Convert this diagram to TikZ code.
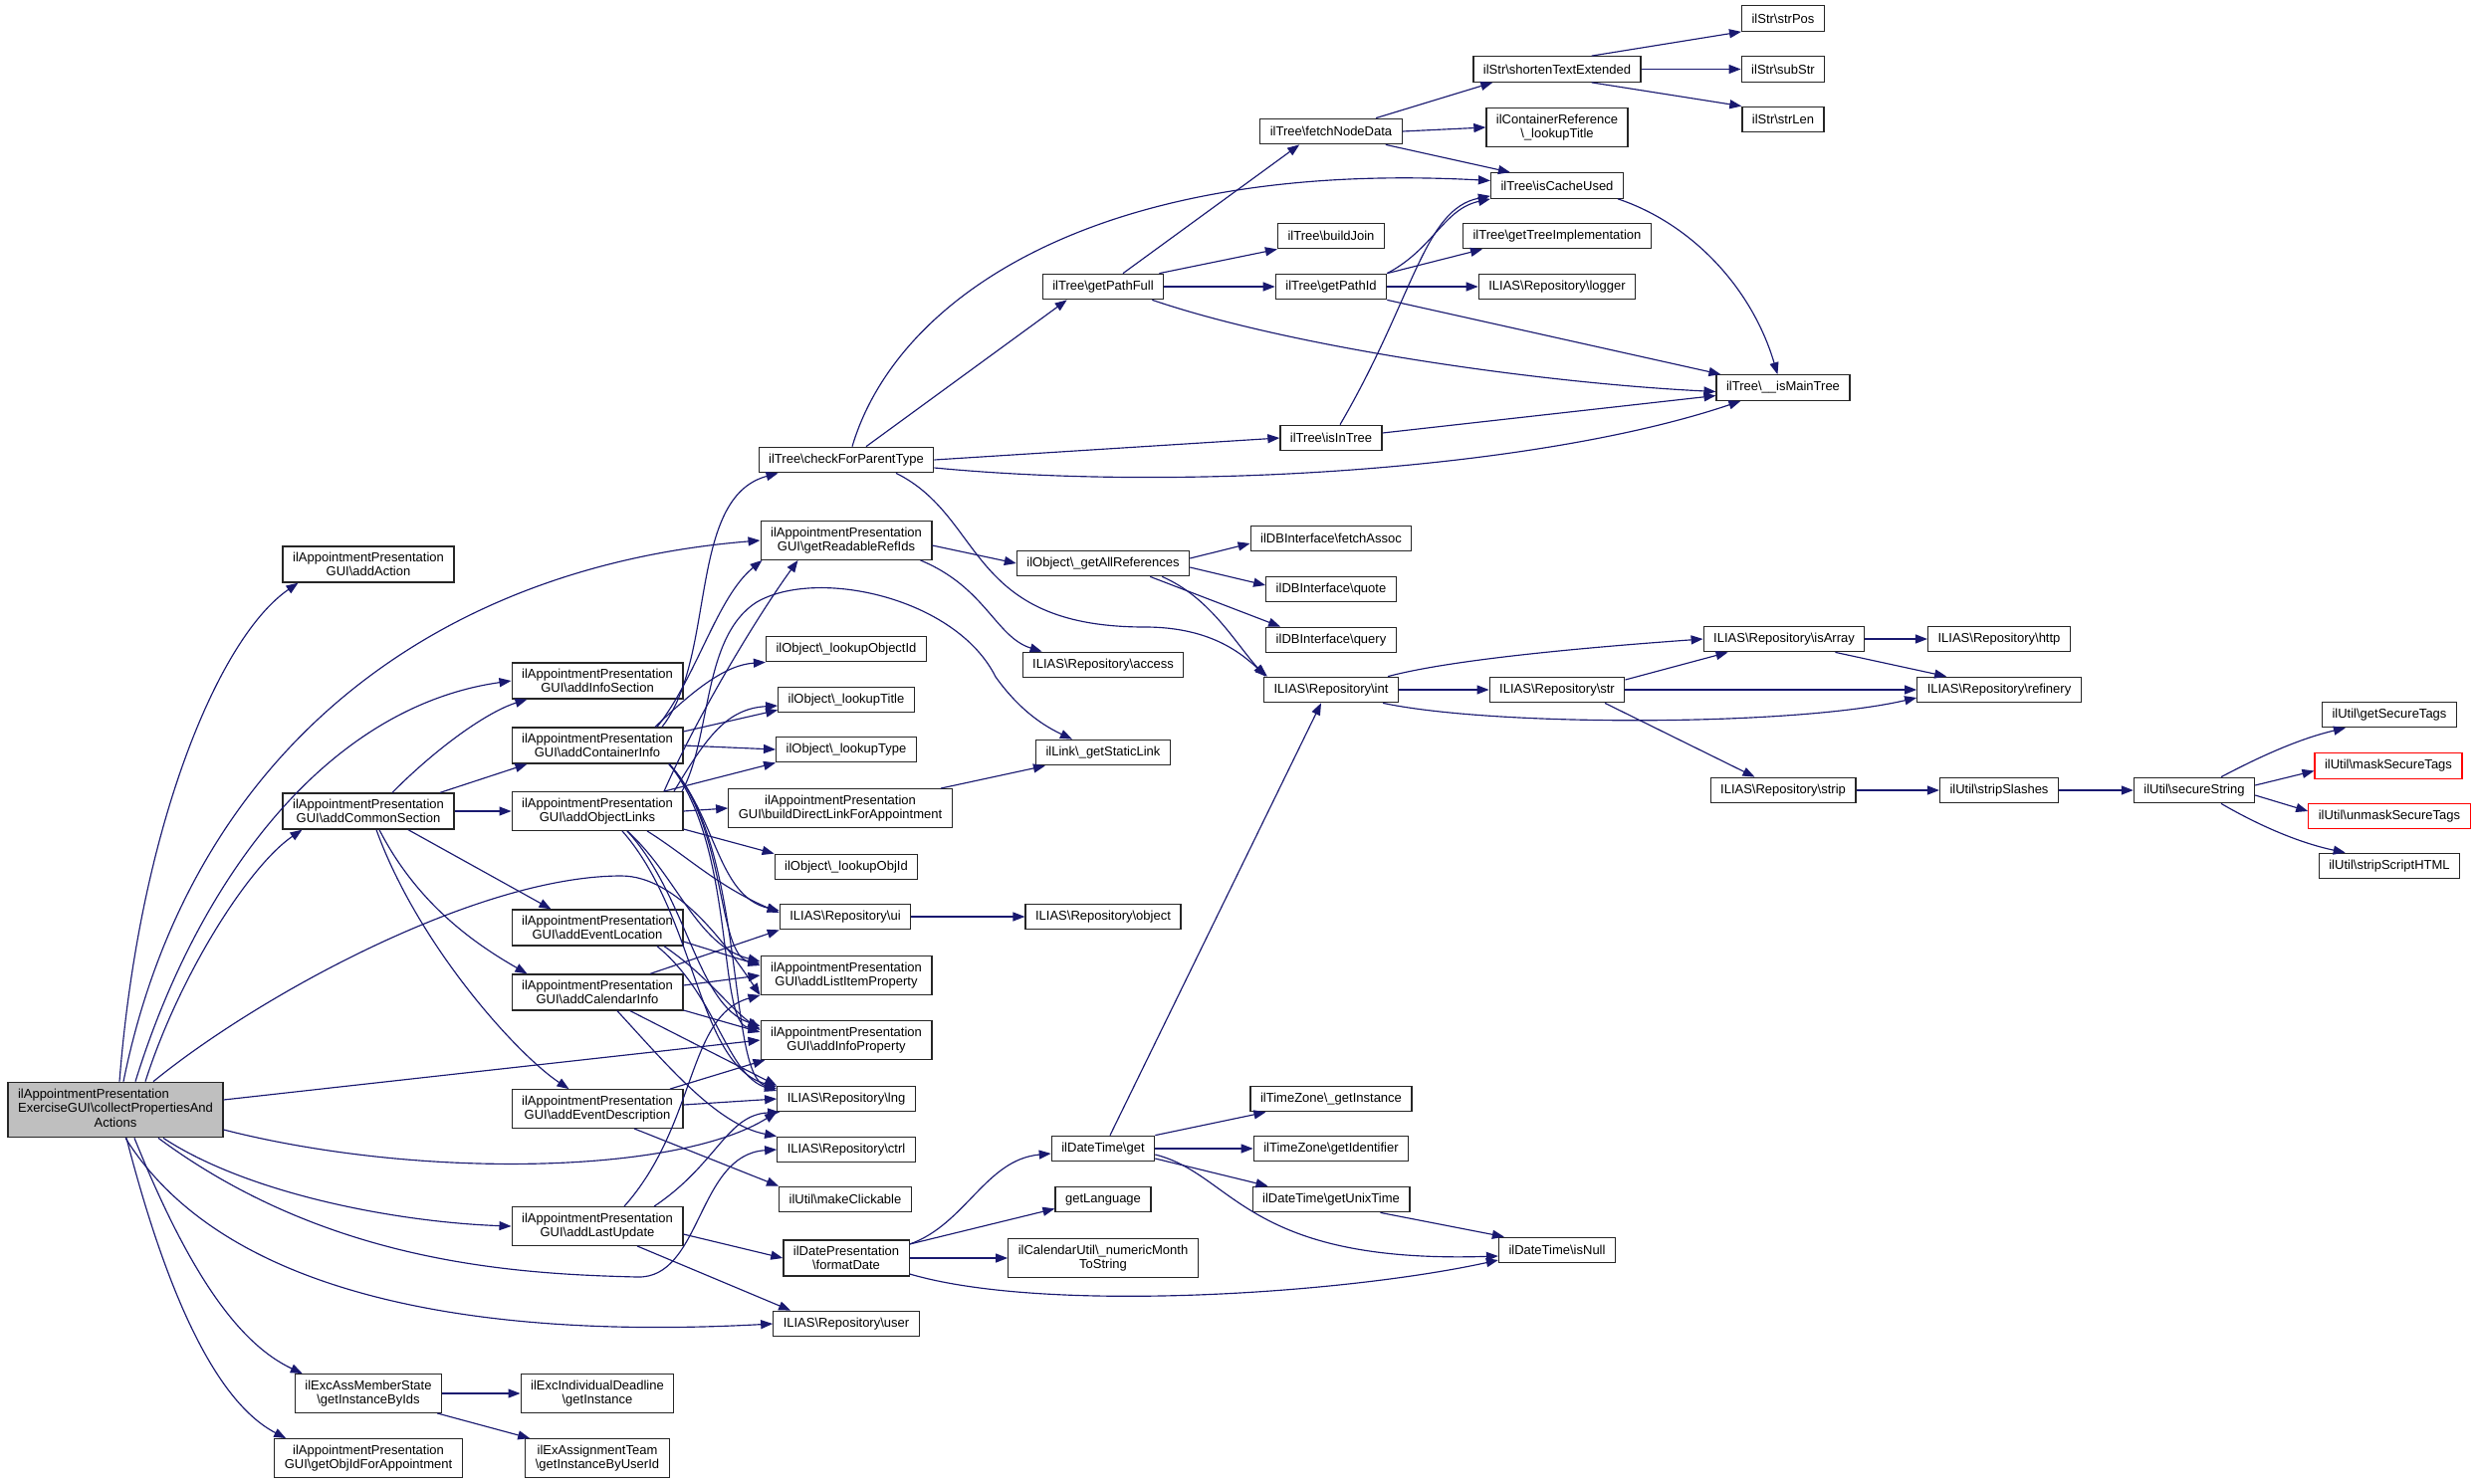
\documentclass[tikz,border=0pt]{standalone}
\usepackage{fontspec}
\setmainfont{Liberation Sans}
\usetikzlibrary{arrows.meta}
\definecolor{edgeblue}{HTML}{191970}
\definecolor{rootgray}{HTML}{BFBFBF}
\newcommand{\nodefont}{\fontsize{13pt}{14.5pt}\selectfont}
\newcommand{\bk}{\textbackslash}
\tikzset{
  nd/.style={draw=black!85, line width=1.25pt, fill=white, inner xsep=10pt, inner ysep=6pt,
    minimum height=25.5pt, align=center, font=\nodefont},
  rednd/.style={nd, draw=red},
  edg/.style={draw=edgeblue, line width=1.15pt, -{Triangle[length=12pt,width=9pt]}},
}
\begin{document}
\begin{tikzpicture}[x=1pt,y=-1pt]
\useasboundingbox (0,0) rectangle (2487,1491);
\fill[white] (0,0) rectangle (2487,1491);
% ---------- nodes ----------
\node[nd, fill=rootgray] (root) at (116,1115) {\begin{tabular}{@{}l@{}}ilAppointmentPresentation\\ExerciseGUI\bk{}collectPropertiesAnd\\\multicolumn{1}{@{}c@{}}{Actions}\end{tabular}};
\node[nd] (addAction) at (370,567) {ilAppointmentPresentation\\GUI\bk{}addAction};
\node[nd] (addCommon) at (370,815) {ilAppointmentPresentation\\GUI\bk{}addCommonSection};
\node[nd] (addInfoSection) at (600,684) {ilAppointmentPresentation\\GUI\bk{}addInfoSection};
\node[nd] (addContainer) at (600,749) {ilAppointmentPresentation\\GUI\bk{}addContainerInfo};
\node[nd] (addObjectLinks) at (600,815) {ilAppointmentPresentation\\GUI\bk{}addObjectLinks};
\node[nd] (addEventLoc) at (600,932) {ilAppointmentPresentation\\GUI\bk{}addEventLocation};
\node[nd] (addCalendar) at (600,997) {ilAppointmentPresentation\\GUI\bk{}addCalendarInfo};
\node[nd] (addEventDesc) at (600,1114) {ilAppointmentPresentation\\GUI\bk{}addEventDescription};
\node[nd] (addLastUpdate) at (600,1232) {ilAppointmentPresentation\\GUI\bk{}addLastUpdate};
\node[nd] (getInstIds) at (370,1400) {ilExcAssMemberState\\\bk{}getInstanceByIds};
\node[nd] (getObjIdApp) at (370,1465) {ilAppointmentPresentation\\GUI\bk{}getObjIdForAppointment};
\node[nd] (excDeadline) at (600,1400) {ilExcIndividualDeadline\\\bk{}getInstance};
\node[nd] (exTeam) at (600,1465) {ilExAssignmentTeam\\\bk{}getInstanceByUserId};
\node[nd] (checkParent) at (850,462) {ilTree\bk{}checkForParentType};
\node[nd] (readableRefIds) at (850,543) {ilAppointmentPresentation\\GUI\bk{}getReadableRefIds};
\node[nd] (lookupObjectId) at (850,652) {ilObject\bk\_lookupObjectId};
\node[nd] (lookupTitle) at (850,703) {ilObject\bk\_lookupTitle};
\node[nd] (lookupType) at (850,753) {ilObject\bk\_lookupType};
\node[nd] (buildDirect) at (844,812) {ilAppointmentPresentation\\GUI\bk{}buildDirectLinkForAppointment};
\node[nd] (lookupObjId) at (850,871) {ilObject\bk\_lookupObjId};
\node[nd] (ui) at (849,921) {ILIAS\bk{}Repository\bk{}ui};
\node[nd] (addListItem) at (850,980) {ilAppointmentPresentation\\GUI\bk{}addListItemProperty};
\node[nd] (addInfoProp) at (850,1045) {ilAppointmentPresentation\\GUI\bk{}addInfoProperty};
\node[nd] (lng) at (850,1104) {ILIAS\bk{}Repository\bk{}lng};
\node[nd] (ctrl) at (850,1155) {ILIAS\bk{}Repository\bk{}ctrl};
\node[nd] (makeClick) at (849,1205) {ilUtil\bk{}makeClickable};
\node[nd] (formatDate) at (850,1264) {ilDatePresentation\\\bk{}formatDate};
\node[nd] (user) at (850,1330) {ILIAS\bk{}Repository\bk{}user};
\node[nd] (getPathFull) at (1108,288) {ilTree\bk{}getPathFull};
\node[nd] (getAllRefs) at (1108,566) {ilObject\bk\_getAllReferences};
\node[nd] (access) at (1108,668) {ILIAS\bk{}Repository\bk{}access};
\node[nd] (staticLink) at (1108,756) {ilLink\bk\_getStaticLink};
\node[nd] (object) at (1108,921) {ILIAS\bk{}Repository\bk{}object};
\node[nd] (dtGet) at (1108,1154) {ilDateTime\bk{}get};
\node[nd] (getLanguage) at (1108,1205) {getLanguage};
\node[nd] (numMonth) at (1108,1264) {ilCalendarUtil\bk\_numericMonth\\ToString};
\node[nd] (fetchNode) at (1337,132) {ilTree\bk{}fetchNodeData};
\node[nd] (buildJoin) at (1337,237) {ilTree\bk{}buildJoin};
\node[nd] (getPathId) at (1337,288) {ilTree\bk{}getPathId};
\node[nd] (isInTree) at (1337,440) {ilTree\bk{}isInTree};
\node[nd] (fetchAssoc) at (1337,541) {ilDBInterface\bk{}fetchAssoc};
\node[nd] (quote) at (1337,592) {ilDBInterface\bk{}quote};
\node[nd] (query) at (1337,643) {ilDBInterface\bk{}query};
\node[nd] (int) at (1337,693) {ILIAS\bk{}Repository\bk{}int};
\node[nd] (tzInst) at (1337,1104) {ilTimeZone\bk\_getInstance};
\node[nd] (tzId) at (1337,1154) {ilTimeZone\bk{}getIdentifier};
\node[nd] (unixTime) at (1337,1205) {ilDateTime\bk{}getUnixTime};
\node[nd] (shorten) at (1564,69.5) {ilStr\bk{}shortenTextExtended};
\node[nd] (contRef) at (1564,128) {ilContainerReference\\\bk\_lookupTitle};
\node[nd] (isCache) at (1564,186.5) {ilTree\bk{}isCacheUsed};
\node[nd] (treeImpl) at (1564,237) {ilTree\bk{}getTreeImplementation};
\node[nd] (logger) at (1564,288) {ILIAS\bk{}Repository\bk{}logger};
\node[nd] (str) at (1564,693) {ILIAS\bk{}Repository\bk{}str};
\node[nd] (isNull) at (1564,1256) {ilDateTime\bk{}isNull};
\node[nd] (strPos) at (1791,18.5) {ilStr\bk{}strPos};
\node[nd] (subStr) at (1791,69.5) {ilStr\bk{}subStr};
\node[nd] (strLen) at (1791,120) {ilStr\bk{}strLen};
\node[nd] (mainTree) at (1791,389.5) {ilTree\bk\_\_isMainTree};
\node[nd] (isArray) at (1792,642) {ILIAS\bk{}Repository\bk{}isArray};
\node[nd] (strip) at (1791,794) {ILIAS\bk{}Repository\bk{}strip};
\node[nd] (http) at (2008,642) {ILIAS\bk{}Repository\bk{}http};
\node[nd] (refinery) at (2008,693) {ILIAS\bk{}Repository\bk{}refinery};
\node[nd] (stripSlashes) at (2008,794) {ilUtil\bk{}stripSlashes};
\node[nd] (secure) at (2204,794) {ilUtil\bk{}secureString};
\node[nd] (getSecure) at (2400,718) {ilUtil\bk{}getSecureTags};
\node[rednd] (mask) at (2399,769.5) {ilUtil\bk{}maskSecureTags};
\node[rednd] (unmask) at (2400,820) {ilUtil\bk{}unmaskSecureTags};
\node[nd] (stripScript) at (2400,870) {ilUtil\bk{}stripScriptHTML};
% ---------- edges from root ----------
\draw[edg] ([xshift=4pt]root.north) .. controls (140,830) and (220,640) .. ([xshift=16pt]addAction.south west);
\draw[edg] ([xshift=8pt]root.north) .. controls (190,760) and (430,570) .. (readableRefIds.west);
\draw[edg] ([xshift=20pt]root.north) .. controls (200,880) and (330,710) .. (addInfoSection.west);
\draw[edg] ([xshift=30pt]root.north) .. controls (180,980) and (250,870) .. ([xshift=20pt]addCommon.south west);
\draw[edg] ([xshift=38pt]root.north) .. controls (260,1000) and (480,880) .. (624,880) .. controls (680,880) and (730,950) .. (addListItem.south west);
\draw[edg] ([yshift=10pt]root.east) -- (addInfoProp.west);
\draw[edg] ([yshift=-20pt]root.east) .. controls (420,1185) and (680,1180) .. (lng.south west);
\draw[edg] ([xshift=43pt]root.south) .. controls (330,1270) and (520,1280) .. (640,1283) .. controls (705,1285) and (700,1160) .. (ctrl.west);
\draw[edg] ([xshift=10pt]root.south) .. controls (230,1310) and (500,1345) .. (user.west);
\draw[edg] ([xshift=48pt]root.south) .. controls (250,1200) and (400,1228) .. (addLastUpdate.west);
\draw[edg] ([xshift=19pt]root.south) .. controls (190,1280) and (240,1350) .. ([xshift=8pt]getInstIds.north west);
\draw[edg] ([xshift=11pt]root.south) .. controls (170,1310) and (220,1410) .. ([xshift=12pt]getObjIdApp.north west);
% ---------- addCommonSection ----------
\draw[edg] ([xshift=24pt]addCommon.north) .. controls (440,750) and (490,715) .. ([xshift=16pt]addInfoSection.south west);
\draw[edg] ([xshift=72pt]addCommon.north) -- ([xshift=16pt]addContainer.south west);
\draw[edg] (addCommon) -- (addObjectLinks);
\draw[edg] ([xshift=40pt]addCommon.south) -- ([xshift=40pt]addEventLoc.north west);
\draw[edg] ([xshift=11pt]addCommon.south) .. controls (420,910) and (480,950) .. ([xshift=16pt]addCalendar.north west);
\draw[edg] ([xshift=8pt]addCommon.south) .. controls (420,950) and (520,1060) .. ([xshift=58pt]addEventDesc.north west);
% ---------- addContainerInfo ----------
\draw[edg] ([xshift=65pt]addContainer.north) .. controls (720,660) and (690,500) .. ([xshift=20pt]checkParent.south west);
\draw[edg] ([xshift=60pt]addContainer.north) .. controls (700,680) and (720,600) .. ([xshift=2pt]readableRefIds.south west);
\draw[edg] ([xshift=58pt]addContainer.north) .. controls (700,690) and (730,668) .. (lookupObjectId.south west);
\draw[edg] ([yshift=14pt]addContainer.east) -- ([yshift=3pt]lookupTitle.south west);
\draw[edg] (addContainer.east) -- (lookupType.west);
\draw[edg] ([xshift=72pt]addContainer.south) .. controls (720,820) and (720,900) .. ([yshift=6pt]ui.west);
\draw[edg] ([xshift=72pt]addContainer.south) .. controls (730,830) and (720,960) .. ([yshift=12pt]addListItem.west);
\draw[edg] ([xshift=72pt]addContainer.south) .. controls (740,850) and (720,1030) .. ([yshift=12pt]addInfoProp.west);
\draw[edg] ([xshift=72pt]addContainer.south) .. controls (750,850) and (730,1080) .. ([yshift=10pt]lng.west);
% ---------- addObjectLinks ----------
\draw[edg] ([xshift=67pt]addObjectLinks.north) .. controls (700,720) and (760,620) .. ([xshift=38pt]readableRefIds.south west);
\draw[edg] ([xshift=77pt]addObjectLinks.north) .. controls (710,740) and (730,712) .. ([yshift=-6pt]lookupTitle.west);
\draw[edg] ([xshift=67pt]addObjectLinks.north) -- (lookupType.south west);
\draw[edg] ([xshift=85pt]addObjectLinks.north) .. controls (715,740) and (705,640) .. (760,605) .. controls (820,570) and (960,600) .. (1000,680) .. controls (1025,715) and (1050,730) .. ([xshift=37pt]staticLink.north west);
\draw[edg] (addObjectLinks.east) -- (buildDirect.west);
\draw[edg] ([yshift=-18pt]addObjectLinks.east) -- (lookupObjId.north west);
\draw[edg] ([xshift=50pt]addObjectLinks.south) .. controls (690,860) and (720,890) .. ([yshift=4pt]ui.west);
\draw[edg] ([xshift=30pt]addObjectLinks.south) .. controls (680,880) and (700,950) .. ([yshift=14pt]addListItem.west);
\draw[edg] ([xshift=30pt]addObjectLinks.south) .. controls (690,900) and (700,1010) .. ([yshift=14pt]addInfoProp.west);
\draw[edg] ([xshift=25pt]addObjectLinks.south) .. controls (700,920) and (700,1070) .. ([yshift=12pt]lng.west);
% ---------- addEventLocation ----------
\draw[edg] ([yshift=-14pt]addEventLoc.east) -- ([yshift=10pt]addListItem.west);
\draw[edg] ([xshift=67pt]addEventLoc.south) .. controls (710,980) and (730,1010) .. ([yshift=10pt]addInfoProp.west);
\draw[edg] ([xshift=60pt]addEventLoc.south) .. controls (720,1000) and (730,1080) .. ([yshift=8pt]lng.west);
% ---------- addCalendarInfo ----------
\draw[edg] ([xshift=53pt]addCalendar.north) -- (ui.south west);
\draw[edg] ([yshift=7pt]addCalendar.east) -- (addListItem.west);
\draw[edg] ([yshift=-18pt]addCalendar.east) -- ([yshift=8pt]addInfoProp.west);
\draw[edg] ([xshift=33pt]addCalendar.south) -- (lng.north west);
\draw[edg] ([xshift=20pt]addCalendar.south) .. controls (670,1070) and (720,1130) .. (ctrl.north west);
% ---------- addEventDescription ----------
\draw[edg] ([xshift=73pt]addEventDesc.north) -- ([xshift=5pt]addInfoProp.south west);
\draw[edg] ([yshift=4pt]addEventDesc.east) -- (lng.west);
\draw[edg] ([xshift=37pt]addEventDesc.south) -- (makeClick.north west);
% ---------- addLastUpdate ----------
\draw[edg] ([xshift=27pt]addLastUpdate.north) .. controls (700,1130) and (690,1020) .. (addListItem.south west);
\draw[edg] ([xshift=57pt]addLastUpdate.north) .. controls (720,1170) and (730,1120) .. ([xshift=3pt]lng.south west);
\draw[edg] ([yshift=-8pt]addLastUpdate.east) -- (formatDate.west);
\draw[edg] ([xshift=40pt]addLastUpdate.south) -- ([xshift=18pt]user.north west);
% ---------- getInstanceByIds ----------
\draw[edg] (getInstIds) -- (excDeadline);
\draw[edg] ([xshift=-5pt]getInstIds.south east) -- ([xshift=5pt]exTeam.north west);
% ---------- checkForParentType ----------
\draw[edg] ([xshift=20pt]checkParent.north) -- ([xshift=25pt]getPathFull.south west);
\draw[edg] ([xshift=6pt]checkParent.north) .. controls (900,300) and (1100,160) .. ([yshift=5pt]isCache.west);
\draw[edg] (checkParent.east) -- (isInTree.west);
\draw[edg] ([yshift=-8pt]checkParent.east) .. controls (1200,495) and (1550,470) .. ([xshift=25pt]mainTree.south west);
\draw[edg] ([xshift=50pt]checkParent.south) .. controls (990,520) and (970,630) .. (1150,630) .. controls (1220,630) and (1250,660) .. ([xshift=4pt]int.north west);
% ---------- getReadableRefIds ----------
\draw[edg] ([yshift=-5pt]readableRefIds.east) -- (getAllRefs.west);
\draw[edg] ([xshift=-12pt]readableRefIds.south east) .. controls (990,590) and (1000,640) .. ([xshift=20pt]access.north west);
% ---------- getAllReferences ----------
\draw[edg] ([yshift=5pt]getAllRefs.east) -- ([yshift=-5pt]fetchAssoc.west);
\draw[edg] ([yshift=-4pt]getAllRefs.east) -- ([yshift=4pt]quote.west);
\draw[edg] ([xshift=-40pt]getAllRefs.south east) -- ([xshift=15pt]query.north west);
\draw[edg] ([xshift=-28pt]getAllRefs.south east) .. controls (1215,600) and (1240,645) .. ([xshift=2pt]int.north west);
% ---------- int / str ----------
\draw[edg] ([xshift=-11pt]int.north east) .. controls (1460,662) and (1600,650) .. (isArray.west);
\draw[edg] (int) -- (str);
\draw[edg] ([xshift=-16pt]int.south east) .. controls (1500,730) and (1800,730) .. ([yshift=-8pt]refinery.west);
\draw[edg] ([yshift=10pt]str.east) -- ([xshift=25pt]isArray.south west);
\draw[edg] (str) -- (refinery);
\draw[edg] ([xshift=48pt]str.south) -- ([xshift=45pt]strip.north west);
\draw[edg] (isArray) -- (http);
\draw[edg] ([xshift=-30pt]isArray.south east) -- ([xshift=30pt]refinery.north west);
\draw[edg] (strip) -- (stripSlashes);
\draw[edg] (stripSlashes) -- (secure);
% ---------- secureString ----------
\draw[edg] ([xshift=27pt]secure.north) .. controls (2270,760) and (2310,742) .. ([xshift=24pt]getSecure.south west);
\draw[edg] ([yshift=5pt]secure.east) -- ([yshift=-5pt]mask.west);
\draw[edg] ([yshift=-5pt]secure.east) -- ([yshift=5pt]unmask.west);
\draw[edg] ([xshift=27pt]secure.south) .. controls (2270,830) and (2310,847) .. ([xshift=27pt]stripScript.north west);
% ---------- getPathFull / getPathId ----------
\draw[edg] ([xshift=20pt]getPathFull.north) -- ([xshift=40pt]fetchNode.south west);
\draw[edg] ([xshift=-5pt]getPathFull.north east) -- (buildJoin.south west);
\draw[edg] (getPathFull) -- (getPathId);
\draw[edg] ([xshift=-12pt]getPathFull.south east) .. controls (1300,350) and (1550,385) .. ([yshift=-4pt]mainTree.west);
\draw[edg] (getPathId.north east) .. controls (1440,250) and (1450,210) .. (isCache.south west);
\draw[edg] (getPathId.north east) -- ([xshift=20pt]treeImpl.south west);
\draw[edg] (getPathId) -- (logger);
\draw[edg] (getPathId.south east) -- ([xshift=5pt]mainTree.north west);
% ---------- isInTree ----------
\draw[edg] ([xshift=9pt]isInTree.north) .. controls (1420,300) and (1430,210) .. ([yshift=3pt]isCache.south west);
\draw[edg] ([yshift=5pt]isInTree.east) -- ([yshift=-8pt]mainTree.west);
% ---------- fetchNodeData ----------
\draw[edg] ([xshift=45pt]fetchNode.north) -- ([xshift=20pt]shorten.south west);
\draw[edg] (fetchNode.east) -- (contRef.west);
\draw[edg] ([xshift=-17pt]fetchNode.south east) -- ([xshift=20pt]isCache.north west);
\draw[edg] ([xshift=-50pt]shorten.north east) -- (strPos.south west);
\draw[edg] (shorten) -- (subStr);
\draw[edg] ([xshift=-50pt]shorten.south east) -- (strLen.north west);
\draw[edg] ([xshift=-6pt]isCache.south east) .. controls (1700,225) and (1760,290) .. ([xshift=62pt]mainTree.north west);
% ---------- ilDateTime ----------
\draw[edg] ([xshift=7pt]dtGet.north) -- ([xshift=-10pt]int.south);
\draw[edg] (dtGet.north east) -- ([xshift=16pt]tzInst.south west);
\draw[edg] (dtGet) -- (tzId);
\draw[edg] ([yshift=-10pt]dtGet.east) -- ([xshift=16pt]unixTime.north west);
\draw[edg] ([yshift=-6pt]dtGet.east) .. controls (1240,1180) and (1250,1270) .. ([yshift=-6pt]isNull.west);
\draw[edg] ([xshift=-30pt]unixTime.south east) -- ([xshift=6pt]isNull.north west);
% ---------- formatDate ----------
\draw[edg] ([yshift=14pt]formatDate.east) .. controls (970,1230) and (990,1165) .. ([yshift=-5pt]dtGet.west);
\draw[edg] ([yshift=14pt]formatDate.east) -- ([yshift=4pt]getLanguage.south west);
\draw[edg] (formatDate) -- (numMonth);
\draw[edg] ([yshift=-16pt]formatDate.east) .. controls (1050,1320) and (1350,1300) .. ([yshift=-10pt]isNull.west);
% ---------- misc ----------
\draw[edg] (ui) -- (object);
\draw[edg] ([xshift=-12pt]buildDirect.north east) -- ([xshift=10pt]staticLink.south west);
\end{tikzpicture}
\end{document}
